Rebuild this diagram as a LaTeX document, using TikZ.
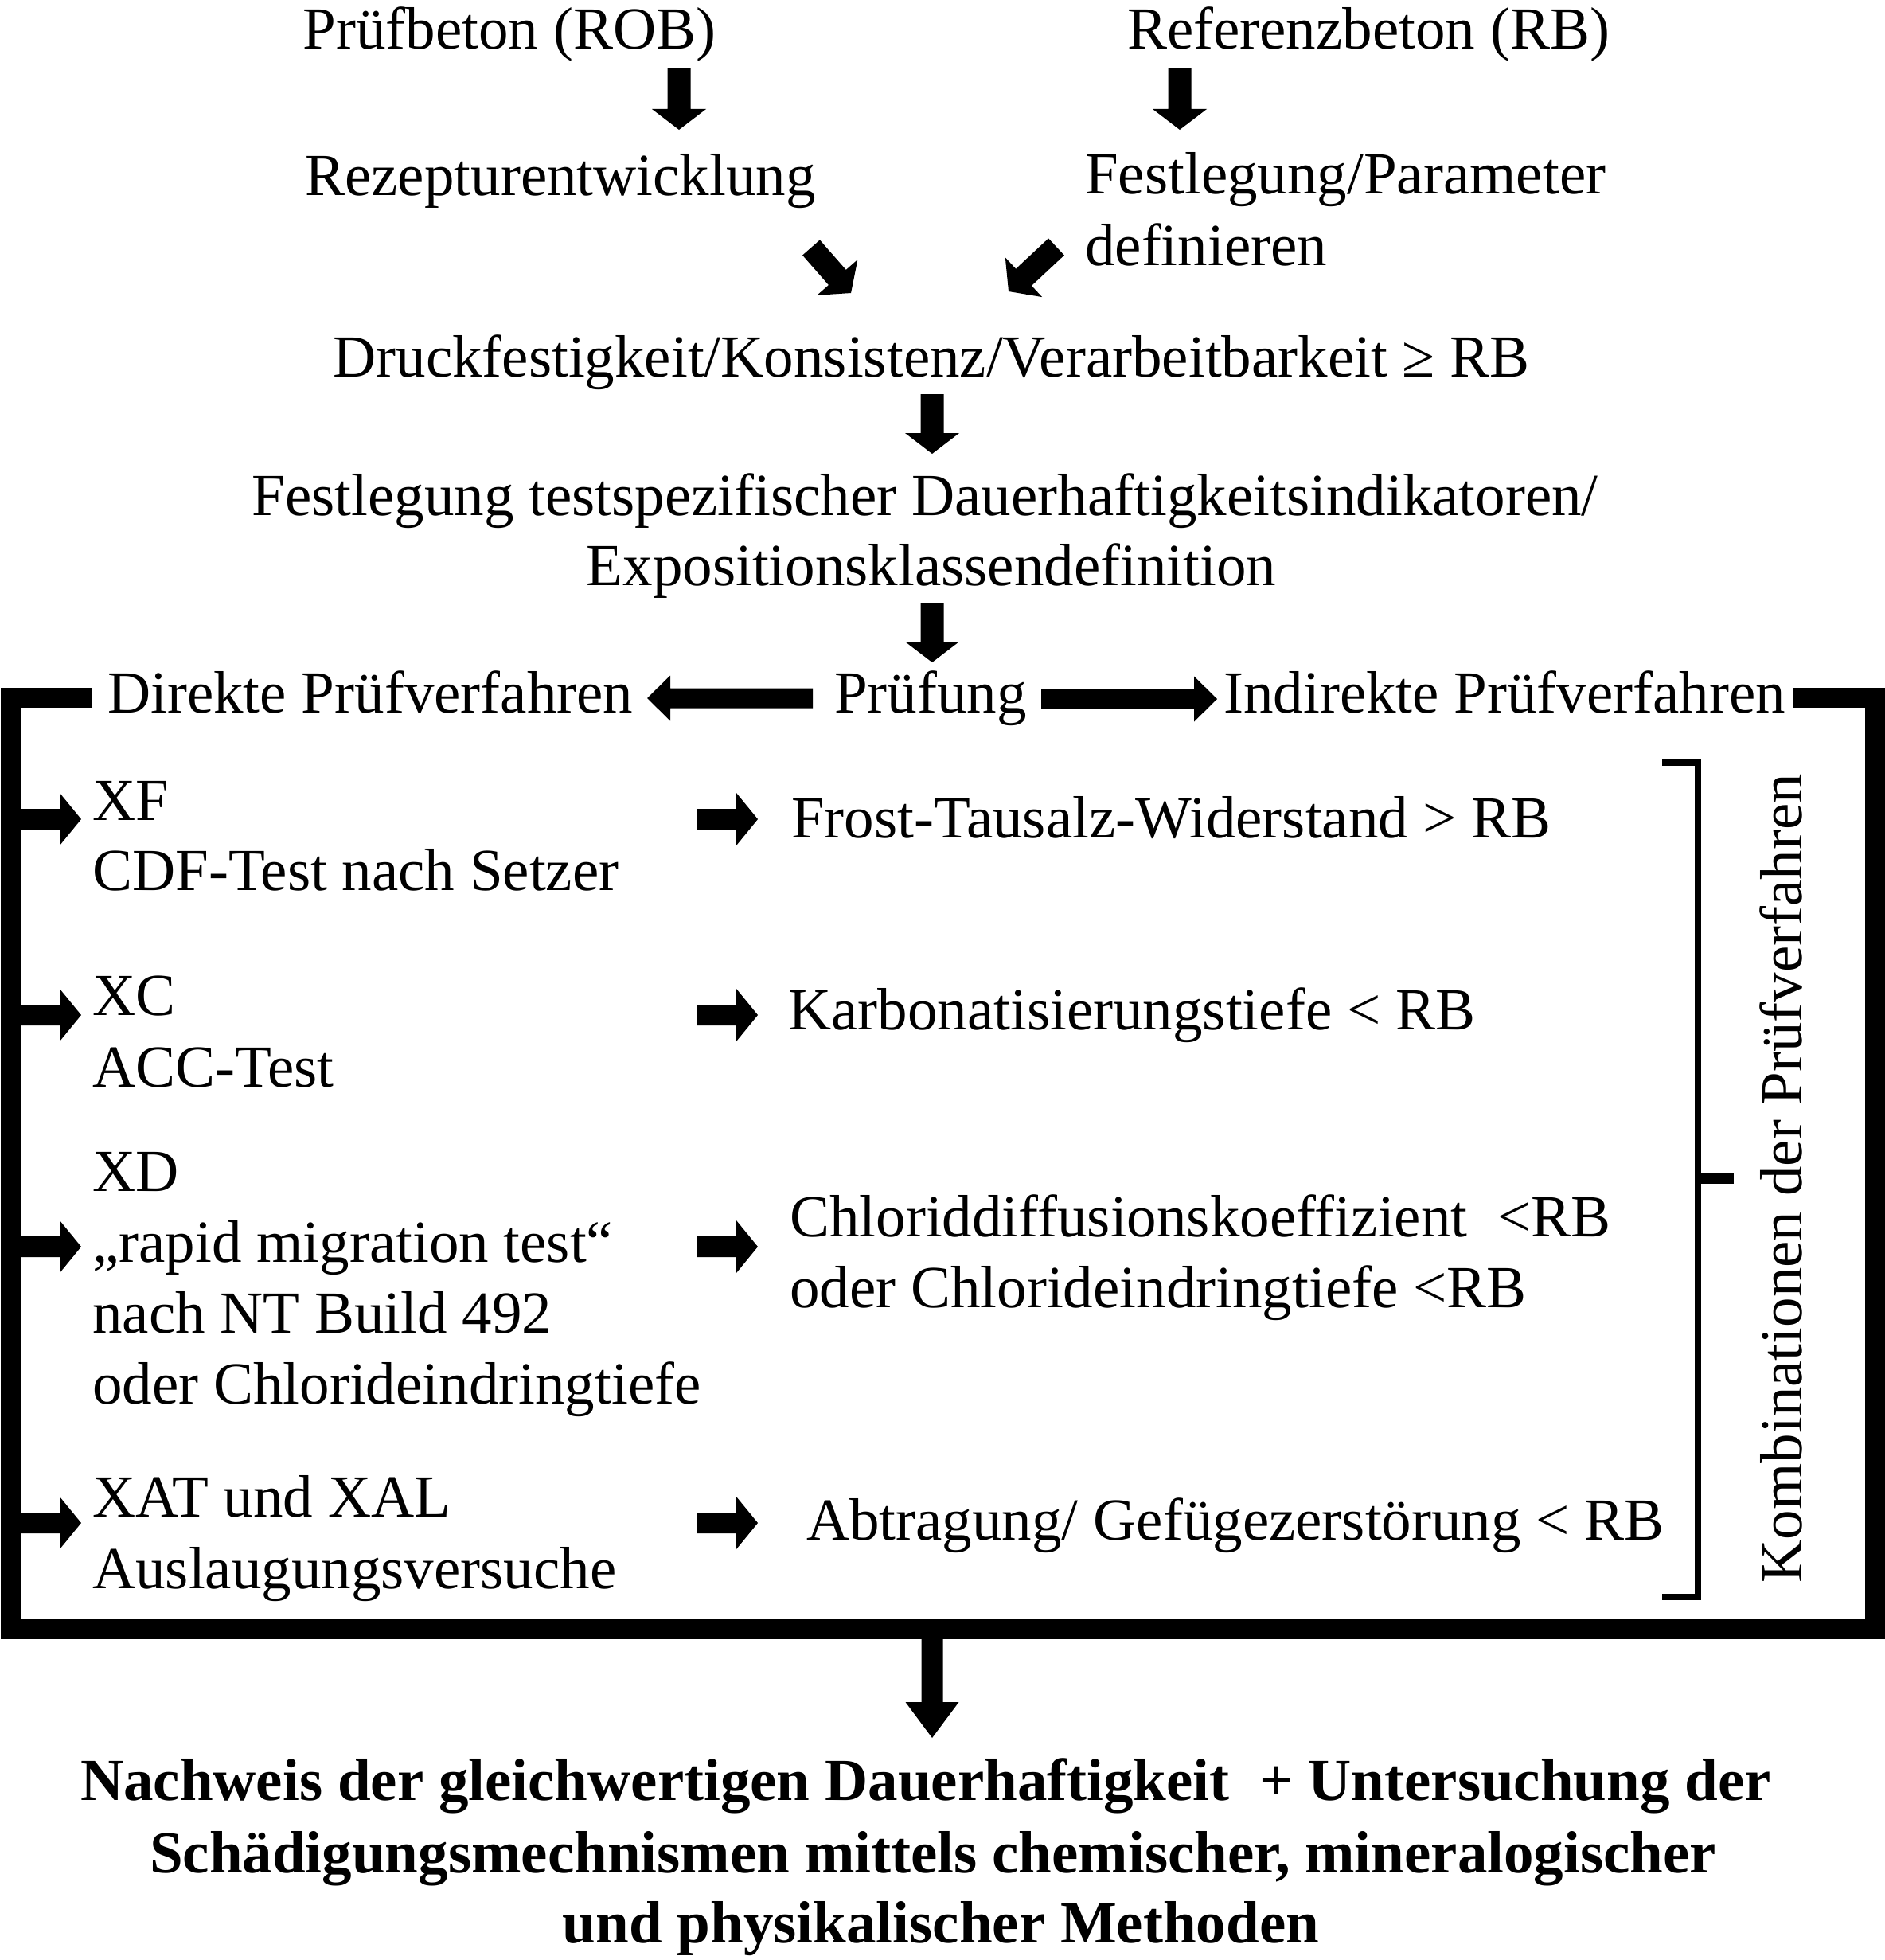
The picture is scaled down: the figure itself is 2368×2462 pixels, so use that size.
\documentclass[tikz,border=0pt]{standalone}
\usepackage{fontspec}
\setmainfont{Liberation Serif}
\usetikzlibrary{calc}
\newcommand\blockarrow[5]{% #1 from, #2 to, #3 half shaft, #4 half head, #5 head length
  \coordinate (ba-h) at ($(#2)!#5pt!(#1)$);
  \fill[arrowfill] ($(#1)!#3pt!90:(#2)$) -- ($(ba-h)!#3pt!90:(#2)$) -- ($(ba-h)!#4pt!90:(#2)$) -- (#2)
    -- ($(ba-h)!#4pt!-90:(#2)$) -- ($(ba-h)!#3pt!-90:(#2)$) -- ($(#1)!#3pt!-90:(#2)$) -- cycle;}
\tikzset{
  txt/.style={inner sep=0pt, font=\fontsize{75}{89}\selectfont},
  btxt/.style={inner sep=0pt, font=\fontsize{75}{89}\selectfont\bfseries},
  arrowfill/.style={fill=black},
  frame/.style={draw=black, line width=25pt, line join=miter, line cap=butt},
  bracketline/.style={draw=black, line width=8pt, line join=miter},
  bracketmid/.style={draw=black, line width=13pt},
}
\begin{document}
\begin{tikzpicture}[x=1pt,y=-1pt]
\useasboundingbox (0,0) rectangle (2368,2462);
\fill[white] (0,0) rectangle (2368,2462);

% ---- top texts
\node[txt, anchor=base] (pb) at (640,62) {Prüfbeton (ROB)};
\node[txt, anchor=base] (rb) at (1719,62) {Referenzbeton (RB)};
\node[txt, anchor=base] (rez) at (704,245) {Rezepturentwicklung};
\node[txt, anchor=base west] (fp1) at (1363,243) {Festlegung/Parameter};
\node[txt, anchor=base west] (fp2) at (1363,333) {definieren};
\node[txt, anchor=base] (druck) at (1170,473) {Druckfestigkeit/Konsistenz/Verarbeitbarkeit ≥ RB};
\node[txt, anchor=base] (ind1) at (1162,647) {Festlegung testspezifischer Dauerhaftigkeitsindikatoren/};
\node[txt, anchor=base] (ind2) at (1170,735) {Expositionsklassendefinition};

% ---- test row
\node[txt, anchor=base west] (dir) at (135,895) {Direkte Prüfverfahren};
\node[txt, anchor=base] (pru) at (1169,895) {Prüfung};
\node[txt, anchor=base west] (indir) at (1537,895) {Indirekte Prüfverfahren};

% ---- left column
\node[txt, anchor=base west] (xf1) at (116,1030) {XF};
\node[txt, anchor=base west] (xf2) at (116,1118) {CDF-Test nach Setzer};
\node[txt, anchor=base west] (xc1) at (116,1275) {XC};
\node[txt, anchor=base west] (xc2) at (116,1365) {ACC-Test};
\node[txt, anchor=base west] (xd1) at (116,1496) {XD};
\node[txt, anchor=base west] (xd2) at (116,1585) {„rapid migration test“};
\node[txt, anchor=base west] (xd3) at (116,1674) {nach NT Build 492};
\node[txt, anchor=base west] (xd4) at (116,1763) {oder Chlorideindringtiefe};
\node[txt, anchor=base west] (xa1) at (116,1905) {XAT und XAL};
\node[txt, anchor=base west] (xa2) at (116,1995) {Auslaugungsversuche};

% ---- right column
\node[txt, anchor=base west] (frost) at (994,1052) {Frost-Tausalz-Widerstand > RB};
\node[txt, anchor=base west] (karb) at (990,1293) {Karbonatisierungstiefe < RB};
\node[txt, anchor=base west] (chl1) at (992,1553) {Chloriddiffusionskoeffizient \ <RB};
\node[txt, anchor=base west] (chl2) at (992,1642) {oder Chlorideindringtiefe <RB};
\node[txt, anchor=base west] (abtr) at (1013,1934) {Abtragung/ Gefügezerstörung < RB};

% ---- rotated label
\node[txt, anchor=base, rotate=90] (komb) at (2263,1480) {Kombinationen der Prüfverfahren};

% ---- bottom text
\node[btxt, anchor=base] (res1) at (1163,2261) {Nachweis der gleichwertigen Dauerhaftigkeit \ + Untersuchung der};
\node[btxt, anchor=base] (res2) at (1172,2352) {Schädigungsmechnismen mittels chemischer, mineralogischer};
\node[btxt, anchor=base] (res3) at (1182,2440) {und physikalischer Methoden};

% ---- frame
\coordinate (f1) at (116,876);
\coordinate (f2) at (13,876);
\coordinate (f3) at (13,2046);
\coordinate (f4) at (2355,2046);
\coordinate (f5) at (2355,876);
\coordinate (f6) at (2253,876);
\draw[frame] (f1) -- (f2) -- (f3) -- (f4) -- (f5) -- (f6);

% ---- bracket
\coordinate (b1) at (2088,958);
\coordinate (b2) at (2133,958);
\coordinate (b3) at (2133,2006);
\coordinate (b4) at (2088,2006);
\coordinate (bm1) at (2133,1480);
\coordinate (bm2) at (2178,1480);
\draw[bracketline] (b1) -- (b2) -- (b3) -- (b4);
\draw[bracketmid] (bm1) -- (bm2);

% ---- arrow end points
\coordinate (a1s) at (853,86);   \coordinate (a1e) at (853,163);
\coordinate (a2s) at (1482,86);  \coordinate (a2e) at (1482,163);
\coordinate (a3s) at (1019,311); \coordinate (a3e) at (1069,368);
\coordinate (a4s) at (1327,310); \coordinate (a4e) at (1267,366);
\coordinate (a5s) at (1171,495); \coordinate (a5e) at (1171,570);
\coordinate (a6s) at (1171,758); \coordinate (a6e) at (1171,832);
\coordinate (a7s) at (1021,877); \coordinate (a7e) at (813,877);
\coordinate (a8s) at (1308,878); \coordinate (a8e) at (1529,878);
\coordinate (l1s) at (13,1029);  \coordinate (l1e) at (102,1029);
\coordinate (l2s) at (13,1275);  \coordinate (l2e) at (102,1275);
\coordinate (l3s) at (13,1566);  \coordinate (l3e) at (102,1566);
\coordinate (l4s) at (13,1913);  \coordinate (l4e) at (102,1913);
\coordinate (m1s) at (875,1029); \coordinate (m1e) at (952,1029);
\coordinate (m2s) at (875,1275); \coordinate (m2e) at (952,1275);
\coordinate (m3s) at (875,1566); \coordinate (m3e) at (952,1566);
\coordinate (m4s) at (875,1913); \coordinate (m4e) at (952,1913);
\coordinate (bos) at (1171,2046); \coordinate (boe) at (1171,2183);

% ---- arrows
\blockarrow{a1s}{a1e}{14.5}{34}{26}
\blockarrow{a2s}{a2e}{14.5}{34}{26}
\blockarrow{a3s}{a3e}{14.5}{34}{26}
\blockarrow{a4s}{a4e}{14.5}{34}{26}
\blockarrow{a5s}{a5e}{14.5}{34}{26}
\blockarrow{a6s}{a6e}{14.5}{34}{26}
\blockarrow{a7s}{a7e}{12.5}{28.5}{29}
\blockarrow{a8s}{a8e}{12.5}{28.5}{29}
\blockarrow{l1s}{l1e}{13}{33}{27}
\blockarrow{l2s}{l2e}{13}{33}{27}
\blockarrow{l3s}{l3e}{13}{33}{27}
\blockarrow{l4s}{l4e}{13}{33}{27}
\blockarrow{m1s}{m1e}{13}{33}{27}
\blockarrow{m2s}{m2e}{13}{33}{27}
\blockarrow{m3s}{m3e}{13}{33}{27}
\blockarrow{m4s}{m4e}{13}{33}{27}
\blockarrow{bos}{boe}{13.5}{33.5}{45}
\end{tikzpicture}
\end{document}
